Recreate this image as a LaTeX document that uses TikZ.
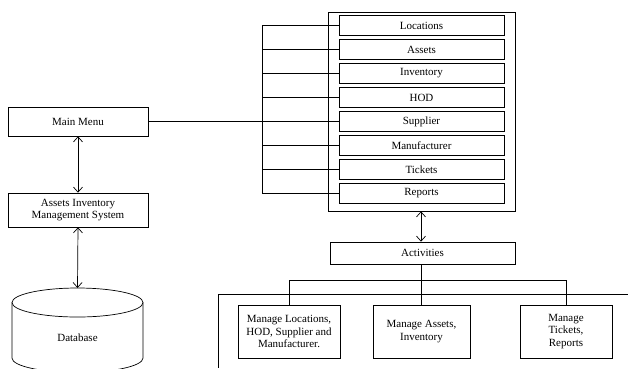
\documentclass[tikz,border=0pt]{standalone}
\usepackage{fontspec}
\setmainfont{Liberation Serif}
\usetikzlibrary{arrows.meta}
\begin{document}
\begin{tikzpicture}[x=1pt,y=-1pt,
  line width=0.7pt,
  font=\fontsize{11}{12.5}\selectfont,
  boxn/.style={draw, inner sep=0pt, align=center},
  menuitem/.style={boxn, minimum width=165pt, minimum height=20pt},
  dbl/.style={{Straight Barb[length=5pt,width=9pt]}-{Straight Barb[length=5pt,width=9pt]}}]
\useasboundingbox (0,0) rectangle (628,368);
% left column
\node[boxn, minimum width=140pt, minimum height=29pt] (mainmenu) at (78,121.5) {Main Menu};
\node[boxn, minimum width=140pt, minimum height=34pt] (aims) at (78,210) {Assets Inventory\\Management System};
% database cylinder
\begin{scope}
\clip (0,0) rectangle (628,368);
\draw (12,302.5) -- (12,358) arc[start angle=180,end angle=360,x radius=65.5,y radius=-14.5] -- (143,302.5);
\draw (77.5,302.5) ellipse[x radius=65.5, y radius=14.5];
\end{scope}
\coordinate (dbtop) at (77.5,288);
\node (db) at (77.5,338) {Database};
\draw[dbl] (mainmenu.south) -- (aims.north);
\draw[dbl] (aims.south) -- (dbtop);
% menu frame
\node[draw, minimum width=187pt, minimum height=199pt, inner sep=0pt] (frame) at (421.5,111.5) {};
\node[menuitem] (loc) at (421.5,25.5) {Locations};
\node[menuitem] (ast) at (421.5,49.5) {Assets};
\node[menuitem] (inv) at (421.5,73.5) {Inventory};
\node[menuitem] (hod) at (421.5,97.5) {HOD};
\node[menuitem] (sup) at (421.5,121.5) {Supplier};
\node[menuitem] (man) at (421.5,145.5) {Manufacturer};
\node[menuitem] (tic) at (421.5,169.5) {Tickets};
\node[menuitem] (rep) at (421.5,193.5) {Reports};
\coordinate (brk) at (262,0);
\draw (loc.west) -| (brk |- rep.west) -- (rep.west);
\foreach \n in {ast,inv,hod,man,tic}{\draw (\n.west) -- (\n.west -| brk);}
\draw (mainmenu.east) -- (sup.west);
% activities
\node[boxn, minimum width=185pt, minimum height=22pt] (act) at (422.5,253) {Activities};
\draw[dbl] (frame.south -| act.north) ++(-1.5,0) -- ([xshift=-1.5pt]act.north);
\node[boxn, minimum width=102pt, minimum height=53pt] (m1) at (289,331.5) {Manage Locations,\\HOD, Supplier and\\Manufacturer.};
\node[boxn, minimum width=97pt, minimum height=53pt] (m2) at (421.5,331.5) {Manage Assets,\\Inventory};
\node[boxn, minimum width=92pt, minimum height=53pt] (m3) at (566,331.5) {Manage\\Tickets,\\Reports};
\coordinate (bar) at (0,280);
\draw ([xshift=-1pt]act.south) -- (m2.north);
\draw (m1.north) -- (m1.north |- bar) -- (m3.north |- bar) -- (m3.north);
% partial outer frame
\coordinate (pfr) at (628,294);
\coordinate (pfl) at (218,368);
\draw (pfr) -- (pfr -| pfl) -- (pfl);
\end{tikzpicture}
\end{document}
